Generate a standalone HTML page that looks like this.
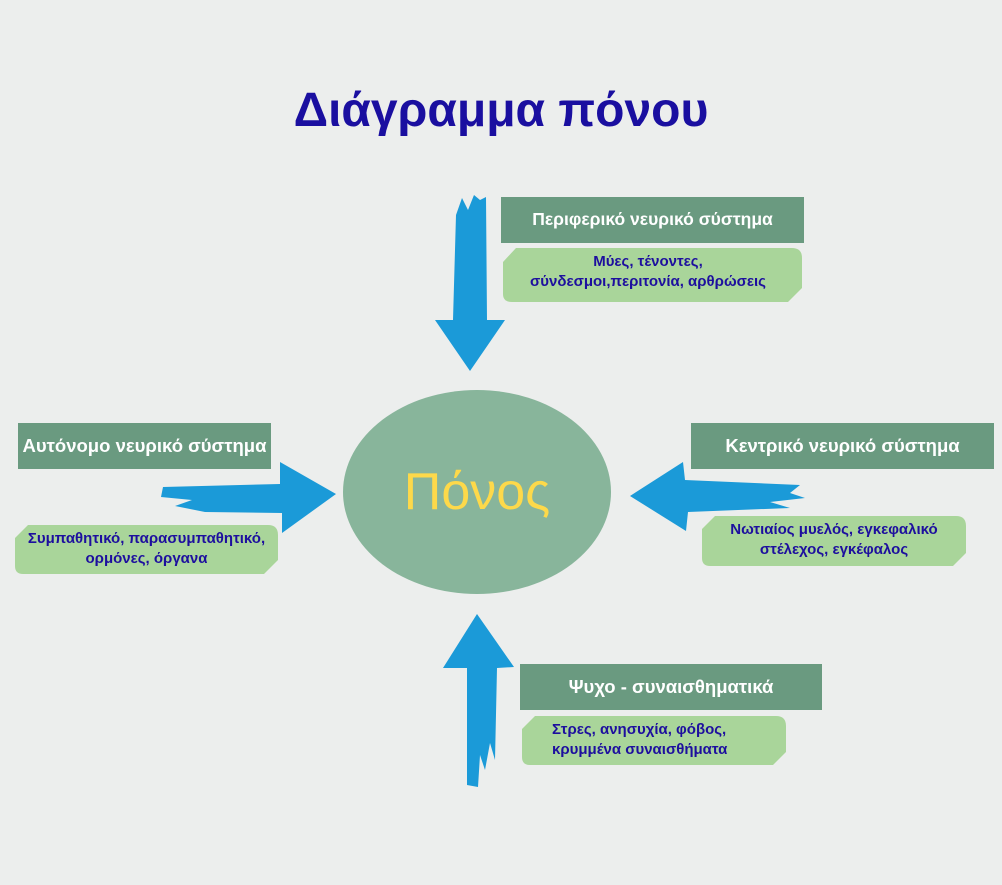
<!DOCTYPE html>
<html><head><meta charset="utf-8"><style>
html,body{margin:0;padding:0}
body{width:1002px;height:885px;background:#eceeed;position:relative;overflow:hidden;font-family:"Liberation Sans","DejaVu Sans",sans-serif}
.t{position:absolute;text-align:center;font-weight:bold;white-space:nowrap}
.h{color:#fff;font-size:18.5px}
.l{color:#1d0f9e;font-size:15px;line-height:20px}
</style></head><body>
<svg width="1002" height="885" style="position:absolute;left:0;top:0">
<g fill="#1b9ad8">
<polygon points="456,215 462,198 468,210 474,195 480,200 486,197 487,320 505,320 470,371 435,320 453,320"/>
<polygon points="163,487 280,484 280,462 336,494 282,533 282,513 205,512 175,506 192,500 161,497"/>
<polygon points="630,496 683,462 685,480 800,485 790,493 805,498 770,502 790,508 688,512 686,531"/>
<polygon points="477,614 514,667 497,668 495,760 490,743 485,770 480,755 478,787 467,785 467,668 443,668"/>
</g>
<ellipse cx="477" cy="492" rx="134" ry="102" fill="#88b59b"/>
<g fill="#6a9a80">
<rect x="501" y="197" width="303" height="46"/>
<rect x="18" y="423" width="253" height="46"/>
<rect x="691" y="423" width="303" height="46"/>
<rect x="520" y="664" width="302" height="46"/>
</g>
<g fill="#a9d59a">
<path d="M516,248 H792 Q802,248 802,258 V288 L788,302 H512 Q503,302 503,294 V262 Z"/>
<path d="M28,525 H268 Q278,525 278,535 V560 L264,574 H23 Q15,574 15,566 V538 Z"/>
<path d="M715,516 H956 Q966,516 966,526 V553 L953,566 H710 Q702,566 702,558 V529 Z"/>
<path d="M535,716 H776 Q786,716 786,726 V752 L773,765 H530 Q522,765 522,757 V729 Z"/>
</g>
</svg>
<div class="t" style="left:0;width:1002px;top:83px;font-size:48px;color:#1a0fa0">Διάγραμμα πόνου</div>
<div class="t" style="left:343px;width:268px;top:462px;font-size:52px;font-weight:normal;color:#fdd94a">Πόνος</div>
<div class="t h" style="left:501px;width:303px;top:209px;font-size:17.5px">Περιφερικό νευρικό σύστημα</div>
<div class="t h" style="left:18px;width:253px;top:435px">Αυτόνομο νευρικό σύστημα</div>
<div class="t h" style="left:691px;width:303px;top:435px">Κεντρικό νευρικό σύστημα</div>
<div class="t h" style="left:520px;width:302px;top:676px">Ψυχο - συναισθηματικά</div>
<div class="t l" style="left:503px;width:290px;top:252px">Μύες, τένοντες,<br>σύνδεσμοι,περιτονία, αρθρώσεις</div>
<div class="t l" style="left:15px;width:263px;top:529px">Συμπαθητικό, παρασυμπαθητικό,<br>ορμόνες, όργανα</div>
<div class="t l" style="left:702px;width:264px;top:520px">Νωτιαίος μυελός, εγκεφαλικό<br>στέλεχος, εγκέφαλος</div>
<div class="t l" style="left:552px;top:720px;text-align:left">Στρες, ανησυχία, φόβος,<br>κρυμμένα συναισθήματα</div>
</body></html>
